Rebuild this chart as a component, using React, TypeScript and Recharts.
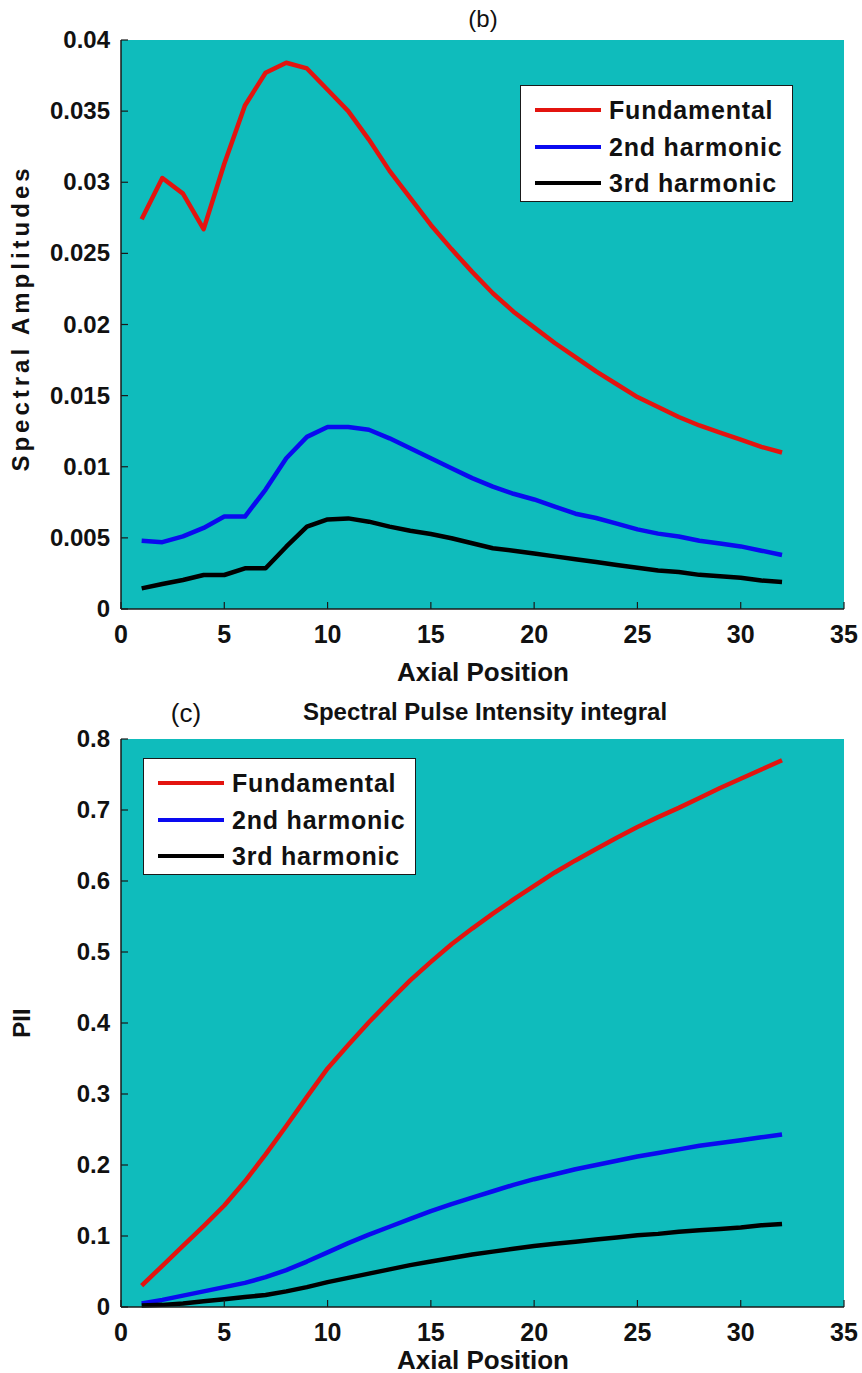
import { CartesianGrid, Legend, Line, LineChart, XAxis, YAxis } from "recharts";

// axial positions 1..32
const positions = [
  1, 2, 3, 4, 5, 6, 7, 8, 9, 10, 11, 12, 13, 14, 15, 16,
  17, 18, 19, 20, 21, 22, 23, 24, 25, 26, 27, 28, 29, 30, 31, 32,
];

// (b) spectral amplitudes
const ampFundamental = [
  0.0274, 0.0303, 0.0292, 0.0267, 0.0313, 0.0354, 0.0377, 0.0384, 0.0380, 0.0365, 0.0350,
  0.0330, 0.0308, 0.0289, 0.0270, 0.0253, 0.0237, 0.0222, 0.0209, 0.0198, 0.0187, 0.0177,
  0.0167, 0.0158, 0.0149, 0.0142, 0.0135, 0.0129, 0.0124, 0.0119, 0.0114, 0.0110,
];
const amp2nd = [
  0.0048, 0.0047, 0.0051, 0.0057, 0.0065, 0.0065, 0.0084, 0.0106, 0.0121, 0.0128, 0.0128,
  0.0126, 0.0120, 0.0113, 0.0106, 0.0099, 0.0092, 0.0086, 0.0081, 0.0077, 0.0072, 0.0067,
  0.0064, 0.0060, 0.0056, 0.0053, 0.0051, 0.0048, 0.0046, 0.0044, 0.0041, 0.0038,
];
const amp3rd = [
  0.00145, 0.00176, 0.00204, 0.00239, 0.00239, 0.00286, 0.00286, 0.00438, 0.00579, 0.0063,
  0.00637, 0.00614, 0.00579, 0.0055, 0.00527, 0.00497, 0.00462, 0.00427, 0.0041, 0.0039,
  0.0037, 0.0035, 0.0033, 0.0031, 0.0029, 0.0027, 0.0026, 0.0024, 0.0023, 0.0022, 0.002,
  0.0019,
];

// (c) pulse intensity integral
const piiFundamental = [
  0.03, 0.058, 0.086, 0.114, 0.143, 0.177, 0.215, 0.255, 0.296, 0.336, 0.369, 0.401, 0.431,
  0.46, 0.486, 0.511, 0.533, 0.554, 0.574, 0.593, 0.612, 0.629, 0.645, 0.661, 0.676, 0.69,
  0.703, 0.717, 0.731, 0.744, 0.757, 0.77,
];
const pii2nd = [
  0.005, 0.01, 0.016, 0.022, 0.028, 0.034, 0.042, 0.052, 0.064, 0.077, 0.09, 0.102, 0.113,
  0.124, 0.135, 0.145, 0.154, 0.163, 0.172, 0.18, 0.187, 0.194, 0.2, 0.206, 0.212, 0.217,
  0.222, 0.227, 0.231, 0.235, 0.239, 0.243,
];
const pii3rd = [
  0.002, 0.003, 0.005, 0.008, 0.011, 0.014, 0.017, 0.022, 0.028, 0.035, 0.041, 0.047, 0.053,
  0.059, 0.064, 0.069, 0.074, 0.078, 0.082, 0.086, 0.089, 0.092, 0.095, 0.098, 0.101, 0.103,
  0.106, 0.108, 0.11, 0.112, 0.115, 0.117,
];

const xTicks = [0, 5, 10, 15, 20, 25, 30, 35];
const ampTicks = [0, 0.005, 0.01, 0.015, 0.02, 0.025, 0.03, 0.035, 0.04];
const piiTicks = [0, 0.1, 0.2, 0.3, 0.4, 0.5, 0.6, 0.7, 0.8];
const seriesNames = ["Fundamental", "2nd harmonic", "3rd harmonic"];

const ampData = positions.map((x, i) => ({
  x,
  f: ampFundamental[i],
  h2: amp2nd[i],
  h3: amp3rd[i],
}));
const piiData = positions.map((x, i) => ({
  x,
  f: piiFundamental[i],
  h2: pii2nd[i],
  h3: pii3rd[i],
}));

const FONT = "'Liberation Sans', Arial, sans-serif";
const BG = "#0fbcbc";
const AXIS = "#1a1a1a";
const RED = "#e3140f";
const BLUE = "#0a0af0";
const BLACK = "#000000";
const TICK = 7;

function BottomTick({ x, y, payload }: any) {
  return (
    <g>
      <line x1={x} y1={y} x2={x} y2={y - TICK} stroke={AXIS} strokeWidth={1.2} />
      <text x={x} y={y + 34} textAnchor="middle" fontFamily={FONT} fontWeight="bold" fontSize={25} fill="#111">
        {payload.value}
      </text>
    </g>
  );
}

function TopTick({ x, y }: any) {
  return <line x1={x} y1={y} x2={x} y2={y + TICK} stroke={AXIS} strokeWidth={1.2} />;
}

function LeftTick({ x, y, payload }: any) {
  return (
    <g>
      <line x1={x} y1={y} x2={x + TICK} y2={y} stroke={AXIS} strokeWidth={1.2} />
      <text x={x - 11} y={y} dy={8} textAnchor="end" fontFamily={FONT} fontWeight="bold" fontSize={24} fill="#111">
        {payload.value}
      </text>
    </g>
  );
}

function RightTick({ x, y }: any) {
  return <line x1={x} y1={y} x2={x - TICK} y2={y} stroke={AXIS} strokeWidth={1.2} />;
}

function LegendBox({ payload }: any) {
  const items = [...(payload || [])].sort(
    (a: any, b: any) => seriesNames.indexOf(a.value) - seriesNames.indexOf(b.value),
  );
  return (
    <div
      style={{
        width: 273,
        height: 117,
        boxSizing: "border-box",
        background: "#fff",
        border: `1px solid ${AXIS}`,
        position: "relative",
      }}
    >
      {items.map((entry: any, i: number) => (
        <div
          key={i}
          style={{
            position: "absolute",
            left: 14,
            top: 24 + i * 36.5 - 15,
            height: 30,
            display: "flex",
            alignItems: "center",
          }}
        >
          <span style={{ display: "inline-block", width: 66, height: 4, background: entry.color }} />
          <span
            style={{
              marginLeft: 8,
              fontFamily: FONT,
              fontWeight: "bold",
              fontSize: 25,
              letterSpacing: 0.8,
              lineHeight: "30px",
              color: "#111",
              whiteSpace: "nowrap",
            }}
          >
            {entry.value}
          </span>
        </div>
      ))}
    </div>
  );
}

interface PanelProps {
  data: { x: number; f: number; h2: number; h3: number }[];
  yTicks: number[];
  height: number;
  xAxisHeight: number;
  legendPos: { left: number; top: number };
}

function Panel({ data, yTicks, height, xAxisHeight, legendPos }: PanelProps) {
  const yDomain = [yTicks[0], yTicks[yTicks.length - 1]];
  return (
    <LineChart width={862} height={height} data={data} margin={{ top: 40, right: 18, bottom: 0, left: 0 }}>
      <CartesianGrid fill={BG} stroke="none" />
      <XAxis
        dataKey="x"
        type="number"
        domain={[0, 35]}
        ticks={xTicks}
        interval={0}
        height={xAxisHeight}
        axisLine={{ stroke: AXIS, strokeWidth: 1.5 }}
        tickLine={false}
        tickSize={0}
        tickMargin={0}
        tick={<BottomTick />}
      />
      <XAxis
        xAxisId="top"
        orientation="top"
        type="number"
        domain={[0, 35]}
        ticks={xTicks}
        interval={0}
        height={0}
        axisLine={{ stroke: AXIS, strokeWidth: 1.5 }}
        tickLine={false}
        tickSize={0}
        tickMargin={0}
        tick={<TopTick />}
      />
      <YAxis
        type="number"
        domain={yDomain}
        ticks={yTicks}
        interval={0}
        width={121}
        axisLine={{ stroke: AXIS, strokeWidth: 1.5 }}
        tickLine={false}
        tickSize={0}
        tickMargin={0}
        tick={<LeftTick />}
      />
      <YAxis
        yAxisId="right"
        orientation="right"
        type="number"
        domain={yDomain}
        ticks={yTicks}
        interval={0}
        width={0}
        axisLine={{ stroke: AXIS, strokeWidth: 1.5 }}
        tickLine={false}
        tickSize={0}
        tickMargin={0}
        tick={<RightTick />}
      />
      <Line type="linear" dataKey="f" name={seriesNames[0]} stroke={RED} strokeWidth={4.5} dot={false} strokeLinejoin="round" isAnimationActive={false} />
      <Line type="linear" dataKey="h2" name={seriesNames[1]} stroke={BLUE} strokeWidth={4.5} dot={false} strokeLinejoin="round" isAnimationActive={false} />
      <Line type="linear" dataKey="h3" name={seriesNames[2]} stroke={BLACK} strokeWidth={4.5} dot={false} strokeLinejoin="round" isAnimationActive={false} />
      <Legend
        layout="vertical"
        align="center"
        verticalAlign="middle"
        wrapperStyle={{ left: legendPos.left, top: legendPos.top, width: 273 }}
        content={<LegendBox />}
      />
    </LineChart>
  );
}

const textBase = {
  position: "absolute" as const,
  fontFamily: FONT,
  color: "#111",
  whiteSpace: "nowrap" as const,
  transform: "translate(-50%, -50%)",
};

export default function App() {
  return (
    <div style={{ position: "absolute", left: 0, top: 0, width: 862, height: 1373, background: "#fff", overflow: "hidden" }}>
      <div style={{ position: "absolute", left: 0, top: 0 }}>
        <Panel data={ampData} yTicks={ampTicks} height={700} xAxisHeight={91} legendPos={{ left: 520, top: 85 }} />
      </div>
      <div style={{ position: "absolute", left: 0, top: 699 }}>
        <Panel data={piiData} yTicks={piiTicks} height={674} xAxisHeight={66} legendPos={{ left: 143, top: 59 }} />
      </div>

      <div style={{ ...textBase, left: 483, top: 19, fontSize: 24 }}>(b)</div>
      <div style={{ ...textBase, left: 483, top: 672, fontSize: 26, fontWeight: "bold" }}>Axial Position</div>
      <div
        style={{
          ...textBase,
          left: 21,
          top: 318,
          fontSize: 24,
          fontWeight: "bold",
          letterSpacing: 4,
          transform: "translate(-50%, -50%) rotate(-90deg)",
        }}
      >
        Spectral Amplitudes
      </div>

      <div style={{ ...textBase, left: 186, top: 713, fontSize: 26 }}>(c)</div>
      <div style={{ ...textBase, left: 485, top: 712, fontSize: 24, fontWeight: "bold" }}>
        Spectral Pulse Intensity integral
      </div>
      <div
        style={{
          ...textBase,
          left: 22,
          top: 1023,
          fontSize: 24,
          fontWeight: "bold",
          transform: "translate(-50%, -50%) rotate(-90deg)",
        }}
      >
        PII
      </div>
      <div style={{ ...textBase, left: 483, top: 1360, fontSize: 26, fontWeight: "bold" }}>Axial Position</div>
    </div>
  );
}
